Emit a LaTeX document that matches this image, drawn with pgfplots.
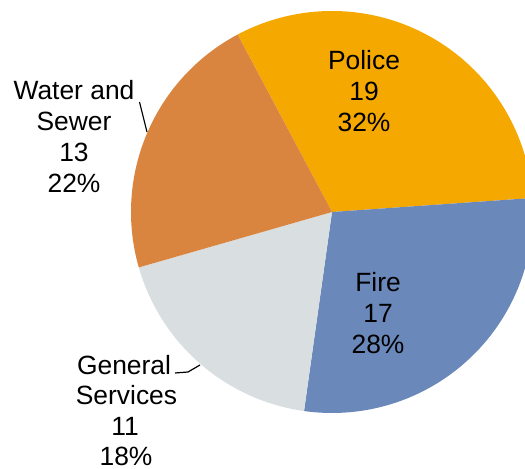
\documentclass[border=0pt]{standalone}
\usepackage{pgfplots}
\pgfplotsset{compat=1.18}
\usepackage{fontspec}
\setmainfont{Liberation Sans}
\definecolor{cPolice}{RGB}{245,168,0}
\definecolor{cFire}{RGB}{106,136,186}
\definecolor{cGen}{RGB}{217,222,224}
\definecolor{cWater}{RGB}{217,132,63}
% values
\def\vPolice{19}
\def\vFire{17}
\def\vGen{11}
\def\vWater{13}
\pgfmathsetmacro\total{\vPolice+\vFire+\vGen+\vWater}
\pgfmathsetmacro\aA{118}
\pgfmathsetmacro\aB{\aA-\vPolice/\total*360}
\pgfmathsetmacro\aC{\aB-\vFire/\total*360}
\pgfmathsetmacro\aD{\aC-\vGen/\total*360}
\pgfmathsetmacro\aE{\aD-\vWater/\total*360}
\def\pcx{332}
\def\pcy{257}
\def\prr{201}
\newcommand\lab[3]{\node[anchor=base,inner sep=0pt,font=\fontsize{26.5}{31}\selectfont] at (axis cs:#1,#2) {#3};}
\begin{document}
\begin{tikzpicture}
\begin{axis}[
  width=525bp,height=469bp,scale only axis,
  xmin=0,xmax=525,ymin=0,ymax=469,
  hide axis,clip=true,clip bounding box=upper bound]
\path[draw=none,fill=none] (rel axis cs:0,0) rectangle (rel axis cs:1,1);
\addplot[fill=cPolice,draw=none,domain=\aB:\aA,samples=90] ({\pcx+\prr*cos(x)},{\pcy+\prr*sin(x)}) -- (axis cs:\pcx,\pcy) -- cycle;
\addplot[fill=cFire,draw=none,domain=\aC:\aB,samples=90] ({\pcx+\prr*cos(x)},{\pcy+\prr*sin(x)}) -- (axis cs:\pcx,\pcy) -- cycle;
\addplot[fill=cGen,draw=none,domain=\aD:\aC,samples=90] ({\pcx+\prr*cos(x)},{\pcy+\prr*sin(x)}) -- (axis cs:\pcx,\pcy) -- cycle;
\addplot[fill=cWater,draw=none,domain=\aE:\aD,samples=90] ({\pcx+\prr*cos(x)},{\pcy+\prr*sin(x)}) -- (axis cs:\pcx,\pcy) -- cycle;
% leader lines
\draw[black,line width=1.2bp] (axis cs:139.5,367) -- (axis cs:147,337);
\draw[black,line width=1.2bp] (axis cs:175,96) -- (axis cs:188,97) -- (axis cs:200,104);
% labels
\lab{364}{399}{Police}
\lab{364}{368}{19}
\lab{364}{337}{32\%}
\lab{378}{177}{Fire}
\lab{378}{146}{17}
\lab{378}{115}{28\%}
\lab{74}{369}{Water and}
\lab{74}{338}{Sewer}
\lab{74}{307}{13}
\lab{74}{276}{22\%}
\lab{124}{94}{General}
\lab{126.5}{64}{Services}
\lab{125}{33}{11}
\lab{126}{3.5}{18\%}
\end{axis}
\end{tikzpicture}
\end{document}
